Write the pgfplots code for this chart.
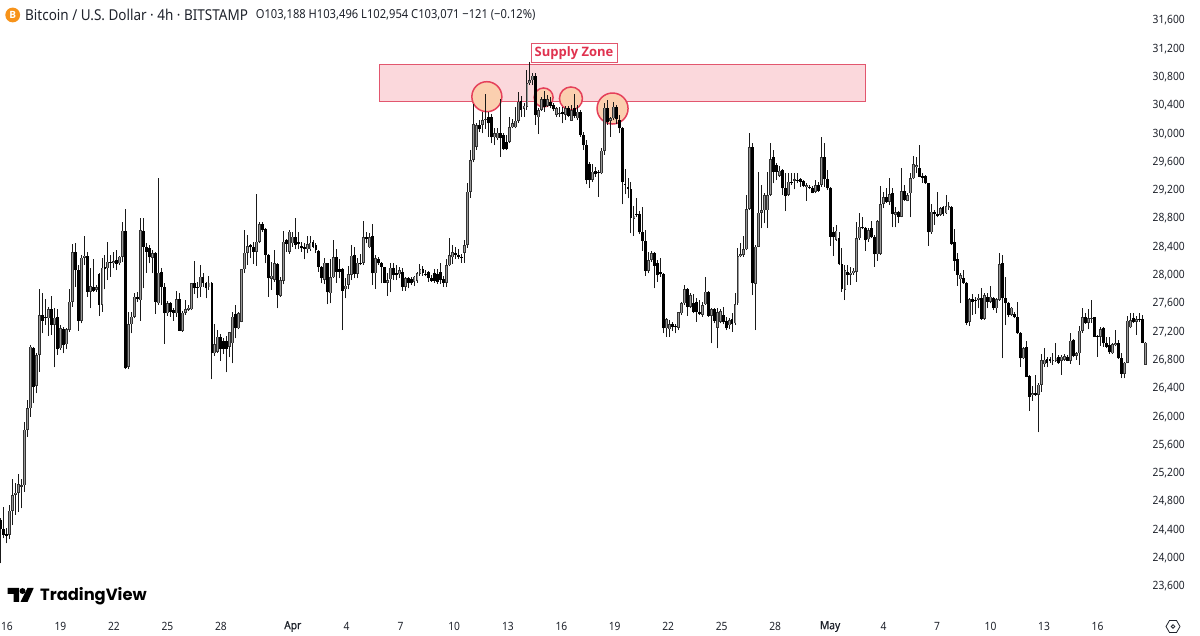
\documentclass[border=0pt]{standalone}
\usepackage{fontspec}
\setmainfont{Open Sans}
\newfontfamily\tv[FakeStretch=0.9]{Noto Sans}
\newfontfamily\tvb[FakeStretch=0.9,FakeBold=0.6]{Noto Sans}
\newfontfamily\logo{Poppins}
\usepackage{pgfplots}
\usepackage{pgfplotstable}
\pgfplotsset{compat=1.18}
\definecolor{zonefill}{HTML}{FBD8DC}
\definecolor{zoneline}{HTML}{E2566E}
\definecolor{circfill}{HTML}{FBCFAF}
\definecolor{circline}{HTML}{E5405A}
\definecolor{labred}{HTML}{E0324F}
\definecolor{btc}{HTML}{F7931A}
\definecolor{txt}{HTML}{1E222B}
\pgfplotstableread{
i o h l c
0 24547 24570 23935 24415
1 24415 24726 24288 24335
2 24350 24430 24217 24325
3 24335 24760 24274 24680
4 24680 25122 24476 24900
5 24900 25065 24618 24930
6 24930 25197 24665 25055
7 25020 25122 24712 25040
8 25040 25937 24947 25820
9 25820 26243 25725 26125
10 26125 27020 26007 26997
11 26973 26997 26196 26430
12 26445 26903 26337 26879
13 26879 27812 26643 27444
14 27444 27760 27185 27364
15 27411 27666 27303 27400
16 27400 27560 27152 27524
17 27524 27713 27162 27303
18 27303 27538 26705 27407
19 27411 27524 26879 26960
20 26973 27303 26950 27256
21 27246 27280 26903 27020
22 27030 27255 26960 27246
23 27232 27812 27209 27633
24 27633 28448 27562 28330
25 28330 28457 27845 28080
26 28080 28151 27223 27360
27 27360 28292 27327 28255
28 28255 28561 28150 28283
29 28278 28340 27703 27774
30 27774 28104 27539 27854
31 27845 28231 27774 27788
32 27798 27870 27770 27835
33 28030 28033 27430 27586
34 27586 28245 27491 28113
35 28118 28292 27807 28095
36 28104 28481 27939 28198
37 28198 28292 27986 28180
38 28175 28340 28104 28208
39 28222 28363 28080 28165
40 28175 28278 28151 28269
41 28269 28763 28198 28636
42 28636 28938 26681 26690
43 26714 27491 26681 27312
44 27312 27491 27185 27421
45 27421 27760 27397 27703
46 27703 27774 27633 27665
47 27655 28810 27360 28646
48 28637 28810 27821 28410
49 28410 28467 28043 28340
50 28387 28434 28175 28260
51 28250 28363 28034 28320
52 28316 28340 27459 27633
53 27610 29376 27586 28043
54 28057 28104 27586 27845
55 27845 27892 27035 27468
56 27468 27642 27435 27610
57 27610 27633 27421 27492
58 27510 27539 27364 27468
59 27468 27789 27421 27670
60 27670 27751 27218 27223
61 27223 27506 27209 27478
62 27478 27657 27445 27525
63 27515 27586 27506 27545
64 27525 27900 27515 27892
65 27892 28213 27741 27822
66 27835 27916 27680 27830
67 27836 28151 27704 27986
68 27986 28034 27836 27892
69 27892 27916 27680 27822
70 27836 27996 27798 27900
71 27900 27916 26535 26903
72 26903 27317 26870 27030
73 26926 27232 26912 27138
74 27138 27171 26799 26960
75 27070 27115 26890 26960
76 27070 27153 26634 26960
77 26997 27210 26846 27200
78 27045 27492 26762 27421
79 27454 27586 27115 27256
80 27256 27492 27242 27468
81 27350 28100 27341 28090
82 28090 28646 28043 28326
83 28320 28575 28151 28420
84 28434 28450 28245 28401
85 28410 28481 28165 28340
86 28340 29155 28137 28480
87 28481 28764 28457 28726
88 28726 28764 28622 28646
89 28660 28670 28175 28293
90 28293 28302 27704 27963
91 27960 28199 27798 28000
92 27940 28363 27915 28175
93 28165 28184 27539 27727
94 27713 27986 27704 27940
95 27930 28637 27878 28481
96 28505 28519 28340 28448
97 28340 28640 28310 28622
98 28457 28622 28410 28551
99 28551 28810 28372 28434
100 28471 28622 28372 28448
101 28420 28481 28340 28387
102 28410 28457 28231 28372
103 28372 28566 28316 28443
104 28372 28566 28349 28466
105 28481 28504 28386 28410
106 28434 28467 28325 28363
107 28354 28363 28057 28127
108 28118 28137 27892 27963
109 27939 28245 27878 28184
110 28175 28184 27595 27765
111 27750 28231 27609 27977
112 27977 28504 27963 28259
113 28259 28372 27901 28057
114 28092 28236 27963 28057
115 28090 28104 27232 27788
116 27807 27963 27680 27859
117 27870 28137 27807 28019
118 28015 28434 27939 28283
119 28292 28401 27963 28024
120 28024 28245 27963 28184
121 28184 28306 28151 28175
122 28184 28773 28151 28542
123 28542 28622 28457 28514
124 28400 28599 28387 28542
125 28561 28726 27868 28033
126 28033 28292 27812 28245
127 28236 28269 28151 28175
128 28175 28198 27892 28127
129 28118 28127 27892 27901
130 27901 28033 27713 27939
131 27950 28184 27765 28113
132 28113 28184 27939 28010
133 28033 28151 27939 28005
134 28019 28118 27963 28080
135 28057 28104 27784 27845
136 27845 27977 27788 27963
137 27963 27986 27821 27901
138 27949 27977 27868 27892
139 27915 27996 27854 27986
140 27930 28057 27901 28033
141 28024 28165 27996 28095
142 28095 28137 27996 28033
143 28030 28080 27990 28022
144 28057 28066 27915 27963
145 27972 28010 27915 27930
146 28040 28100 27900 27930
147 28030 28090 27880 27910
148 28050 28180 27880 27940
149 27950 28000 27840 27900
150 27900 28240 27840 28150
151 28150 28530 28130 28290
152 28260 28430 28170 28330
153 28320 28410 28240 28290
154 28290 28380 28230 28270
155 28270 28300 28180 28250
156 28320 28500 28180 28430
157 28434 29305 28390 29188
158 29188 29776 29100 29635
159 29635 30427 29600 30139
160 29825 30160 29780 30130
161 30130 30200 30035 30068
162 30130 30318 30012 30200
163 30200 30568 30070 30220
164 30238 30318 29965 30153
165 30247 30285 29870 29955
166 29955 30082 29847 30012
167 29940 30082 29918 30020
168 30012 30492 29682 29941
169 29988 30012 29776 29790
170 29894 29988 29776 29790
171 29894 30238 29870 30097
172 30097 30210 30082 30153
173 30097 30389 30082 30191
174 30186 30601 30163 30460
175 30474 30540 30247 30342
176 30356 30436 30247 30403
177 30389 30907 30342 30718
178 30718 31025 30695 30765
179 30765 30860 30695 30827
180 30822 30860 30130 30271
181 30238 30365 30002 30342
182 30342 30530 30332 30492
183 30492 30615 30318 30389
184 30398 30554 30389 30492
185 30460 30530 30365 30400
186 30412 30436 30327 30351
187 30271 30389 30247 30365
188 30280 30385 30240 30300
189 30318 30389 30153 30285
190 30271 30398 30200 30365
191 30365 30398 30238 30257
192 30190 30412 30191 30342
193 30365 30563 30224 30257
194 30224 30412 30200 30318
195 30318 30342 29965 29988
196 29988 30035 29776 29847
197 29847 29918 29291 29352
198 29579 29602 29244 29352
199 29352 29574 29329 29470
200 29480 29541 29400 29432
201 29460 29494 29117 29445
202 29447 29800 29432 29767
203 29767 30436 29706 30375
204 30375 30483 30130 30177
205 30186 30247 29965 30224
206 30224 30450 30200 30389
207 30390 30412 30139 30210
208 30200 30271 30012 30082
209 30082 30106 29009 29319
210 29296 29508 29150 29282
211 29258 29376 29093 29225
212 29225 29329 28599 28811
213 28801 28990 28566 28848
214 28865 29093 28834 28860
215 28872 28914 28584 28613
216 28613 28976 28349 28490
217 28490 28646 28000 28066
218 28066 28339 28033 28222
219 28222 28349 28198 28316
220 28325 28339 27821 28142
221 28175 28222 27915 28009
222 28047 28255 27986 28019
223 28019 28033 27185 27256
224 27256 27397 27138 27388
225 27242 27374 27138 27312
226 27312 27341 27218 27280
227 27295 27313 27185 27285
228 27265 27492 27232 27482
229 27468 27633 27444 27609
230 27609 27868 27586 27812
231 27812 27821 27435 27562
232 27562 27751 27539 27727
233 27609 27737 27468 27490
234 27633 27680 27350 27482
235 27482 27656 27444 27454
236 27445 27633 27421 27586
237 27595 27986 27586 27774
238 27774 27784 27421 27435
239 27435 27544 27044 27530
240 27530 27548 27327 27360
241 27263 27539 26973 27482
242 27350 27529 27326 27500
243 27444 27562 27313 27340
244 27360 27421 27232 27256
245 27300 27400 27246 27370
246 27388 27468 27209 27317
247 27327 27760 27303 27600
248 27609 28387 27586 28278
249 28272 28457 28260 28300
250 28292 28561 28269 28372
251 28372 29140 28360 28943
252 28943 30012 28928 29814
253 29814 29870 27727 27892
254 27882 28434 27232 28410
255 28410 29470 28401 28890
256 28890 29282 28669 28925
257 28925 29164 28740 29140
258 28925 29470 28679 29140
259 29140 29870 29126 29644
260 29682 29776 29305 29470
261 29564 29588 29352 29470
262 29414 29550 29400 29484
263 29494 29503 29140 29235
264 29235 29447 28914 29131
265 29140 29447 29126 29329
266 29330 29447 29282 29320
267 29345 29447 29220 29362
268 29352 29456 29305 29350
269 29362 29376 29258 29329
270 29338 29352 29249 29268
271 29250 29315 29060 29282
272 29258 29282 29220 29254
273 29244 29268 29164 29173
274 29188 29352 29164 29282
275 29282 29329 29188 29197
276 29282 29955 29258 29673
277 29673 29870 29258 29362
278 29362 29494 29211 29235
279 29235 29249 28420 28551
280 28622 28693 28278 28542
281 28505 28715 28495 28636
282 28528 28622 28151 28160
283 28160 28387 27774 27807
284 27798 28151 27656 28080
285 28057 28151 27868 28010
286 28010 28127 27868 28043
287 28033 28104 28010 28070
288 28057 28754 27916 28528
289 28528 28881 28504 28693
290 28690 28825 28655 28680
291 28669 28693 28354 28504
292 28513 28669 28481 28646
293 28670 28773 28528 28542
294 28552 28575 28128 28302
295 28302 28787 28212 28773
296 28308 29268 28293 29013
297 29013 29188 28952 29108
298 29108 29235 29032 29047
299 29047 29376 28999 29150
300 29164 29235 28684 28872
301 28860 28976 28684 28900
302 28905 28919 28740 28835
303 28835 29518 28825 29197
304 29197 29282 29060 29070
305 29060 29164 29051 29140
306 29164 29447 28825 29376
307 29376 29692 29362 29579
308 29532 29673 29447 29565
309 29527 29847 29390 29400
310 29410 29447 29315 29385
311 29410 29423 29296 29306
312 29306 29315 28420 28613
313 28613 29013 28590 28905
314 28905 28929 28717 28872
315 28872 29188 28825 28844
316 28858 28976 28844 28952
317 28966 28985 28844 28872
318 28882 29141 28872 28985
319 28952 29046 28929 28985
320 28976 28985 28434 28448
321 28472 28655 28067 28212
322 28232 28316 27855 28010
323 27950 28034 27610 28010
324 27963 28081 27883 27892
325 27902 27916 27303 27336
326 27350 27680 27289 27666
327 27666 27741 27445 27633
328 27660 27694 27459 27650
329 27657 27741 27539 27690
330 27680 27822 27374 27388
331 27388 27760 27374 27727
332 27694 27760 27539 27633
333 27633 27855 27610 27704
334 27680 27694 27515 27539
335 27539 27680 27478 27666
336 27656 28326 27647 28165
337 28175 28293 26832 27680
338 27680 27986 27303 27610
339 27610 27633 27412 27445
340 27445 27562 27430 27548
341 27459 27492 27398 27412
342 27412 27633 27176 27186
343 27186 27210 26715 26832
344 26832 26988 26818 26974
345 26988 27078 26564 26573
346 26583 26597 26093 26291
347 26310 26442 26234 26338
348 26338 26597 26300 26315
349 26315 26479 25787 26456
350 26456 26894 26361 26809
351 26750 26983 26715 26815
352 26823 26856 26705 26770
353 26819 26856 26762 26800
354 26800 26903 26738 26810
355 26800 27045 26785 26840
356 26856 26880 26752 26762
357 26800 26880 26597 26856
358 26809 26894 26800 26865
359 26856 26880 26790 26800
360 26800 27186 26752 27078
361 27092 27101 26847 26866
362 26866 26927 26809 26903
363 26903 27290 26738 27224
364 27224 27539 27195 27412
365 27412 27478 27318 27327
366 27337 27525 27242 27398
367 27390 27657 27337 27400
368 27412 27421 27139 27139
369 27148 27162 26856 27130
370 27139 27280 27007 27242
371 27257 27280 26997 27045
372 27045 27139 26974 26997
373 27021 27139 26894 26917
374 26903 27045 26894 27035
375 27021 27233 27000 27045
376 27054 27092 26823 26833
377 26833 26903 26550 26611
378 26611 26785 26550 26771
379 26771 27431 26762 27365
380 27270 27469 27256 27374
381 27398 27478 27327 27341
382 27351 27431 27162 27384
383 27390 27469 27351 27385
384 27384 27445 27045 27054
385 26738 27068 26738 27054
}\candles
\begin{document}
\begin{tikzpicture}[x=1pt,y=1pt]
\useasboundingbox (0,0) rectangle (1200,636);
\begin{axis}[
  at={(0pt,28pt)}, anchor=south west,
  width=1157pt, height=608pt, scale only axis,
  xmin=-0.323, xmax=389, ymin=23303, ymax=31897,
  axis line style={draw=none}, tick style={draw=none},
  yticklabel pos=right,
  ytick={23600,24000,24400,24800,25200,25600,26000,26400,26800,27200,27600,28000,28400,28800,29200,29600,30000,30400,30800,31200,31600},
  scaled y ticks=false,
  /pgf/number format/1000 sep={,},
  /pgf/number format/assume math mode=true,
  yticklabel style={anchor=east,xshift=28pt,yshift=0.5pt,inner sep=0pt,font=\tv\fontsize{11.4}{12}\selectfont,text=txt},
  xtick={2,20,38,56,74,98.2,116.3,134.5,152.5,170.6,188.6,206.5,224.5,242.5,260.5,279,297,315,333,351,369},
  xticklabels={16,19,22,25,28,{\tvb Apr},4,7,10,13,16,19,22,25,28,{\tvb May},4,7,10,13,16},
  xticklabel style={anchor=center,yshift=-18.5pt,inner sep=0pt,font=\tv\fontsize{11.4}{12}\selectfont,text=txt},
]
% supply zone
\addplot[fill=zonefill,draw=zoneline,line width=1pt] coordinates {(127.4,30992)(291.07,30992)(291.07,30459)(127.4,30459)} --cycle;
% touch circles
\draw[fill=circfill,draw=circline,line width=1.5pt] (axis cs:163.5,30530) circle[radius=15pt];
\draw[fill=circfill,draw=circline,line width=1.5pt] (axis cs:182.6,30519) circle[radius=9.5pt];
\draw[fill=circfill,draw=circline,line width=1.5pt] (axis cs:191.8,30505) circle[radius=11.5pt];
\draw[fill=circfill,draw=circline,line width=1.5pt] (axis cs:205.8,30363) circle[radius=15.5pt];
% wicks
\addplot[draw=none,mark=none,forget plot,
  error bars/.cd,y dir=plus,y explicit,error mark=none,error bar style={black!90,line width=1pt}]
  table[x=i,y=l,y error plus expr=\thisrow{h}-\thisrow{l}] {\candles};
% down bodies
\addplot[draw=none,mark=none,forget plot,unbounded coords=discard,
  error bars/.cd,y dir=plus,y explicit,error mark=none,error bar style={black,line width=2.9pt}]
  table[x=i,y expr={\thisrow{c}<\thisrow{o} ? \thisrow{c} : nan},y error plus expr=\thisrow{o}-\thisrow{c}] {\candles};
% up bodies
\addplot[draw=none,mark=none,forget plot,unbounded coords=discard,
  error bars/.cd,y dir=plus,y explicit,error mark=none,error bar style={black!80,line width=2.9pt}]
  table[x=i,y expr={\thisrow{c}>\thisrow{o} ? \thisrow{o} : nan},y error plus expr=\thisrow{c}-\thisrow{o}] {\candles};
\addplot[draw=none,mark=none,forget plot,unbounded coords=discard,
  error bars/.cd,y dir=plus,y explicit,error mark=none,error bar style={black!40,line width=.9pt}]
  table[x=i,y expr={\thisrow{c}>\thisrow{o}+20 ? \thisrow{o}+8 : nan},y error plus expr=\thisrow{c}-\thisrow{o}-16] {\candles};
\end{axis}
% header
\fill[btc] (12.7,621) circle[radius=7.4];
\node[text=white,inner sep=0pt,font=\fontsize{10}{10}\selectfont\bfseries] at (12.7,621) {B};
\node[anchor=west,inner sep=0pt,text=txt,font=\tv\fontsize{15}{16}\selectfont] at (25,621) {Bitcoin / U.S. Dollar · 4h · BITSTAMP};
\node[anchor=west,inner sep=0pt,text=txt,font=\tv\fontsize{12.4}{13}\selectfont] at (255.6,621) {O103,188 H103,496 L102,954 C103,071 −121 (−0.12\%)};
% label
\draw[draw=zoneline,fill=white,line width=.8pt] (531,573.3) rectangle (617,593);
\node[inner sep=0pt,text=labred,font=\fontsize{13}{14}\selectfont\bfseries] at (574,583) {Supply Zone};
% logo
\fill[black] (7.7,48)--(19,48)--(19,34)--(13.5,34)--(13.5,42)--(7.7,42)--cycle;
\fill[black] (22.5,45) circle[radius=3];
\fill[black] (27.5,48)--(33.7,48)--(27.5,34)--(20.5,34)--cycle;
\node[anchor=base west,inner sep=0pt,text=black,font=\logo\bfseries\fontsize{16.3}{20}\selectfont] at (40,35) {TradingView};
% settings icon
\draw[txt,line width=.8pt] (1180,9.5)--(1176.5,15.5)--(1169.5,15.5)--(1166,9.5)--(1169.5,3.5)--(1176.5,3.5)--cycle;
\draw[txt,line width=.8pt] (1173,9.5) circle[radius=1.8];
\end{tikzpicture}
\end{document}
